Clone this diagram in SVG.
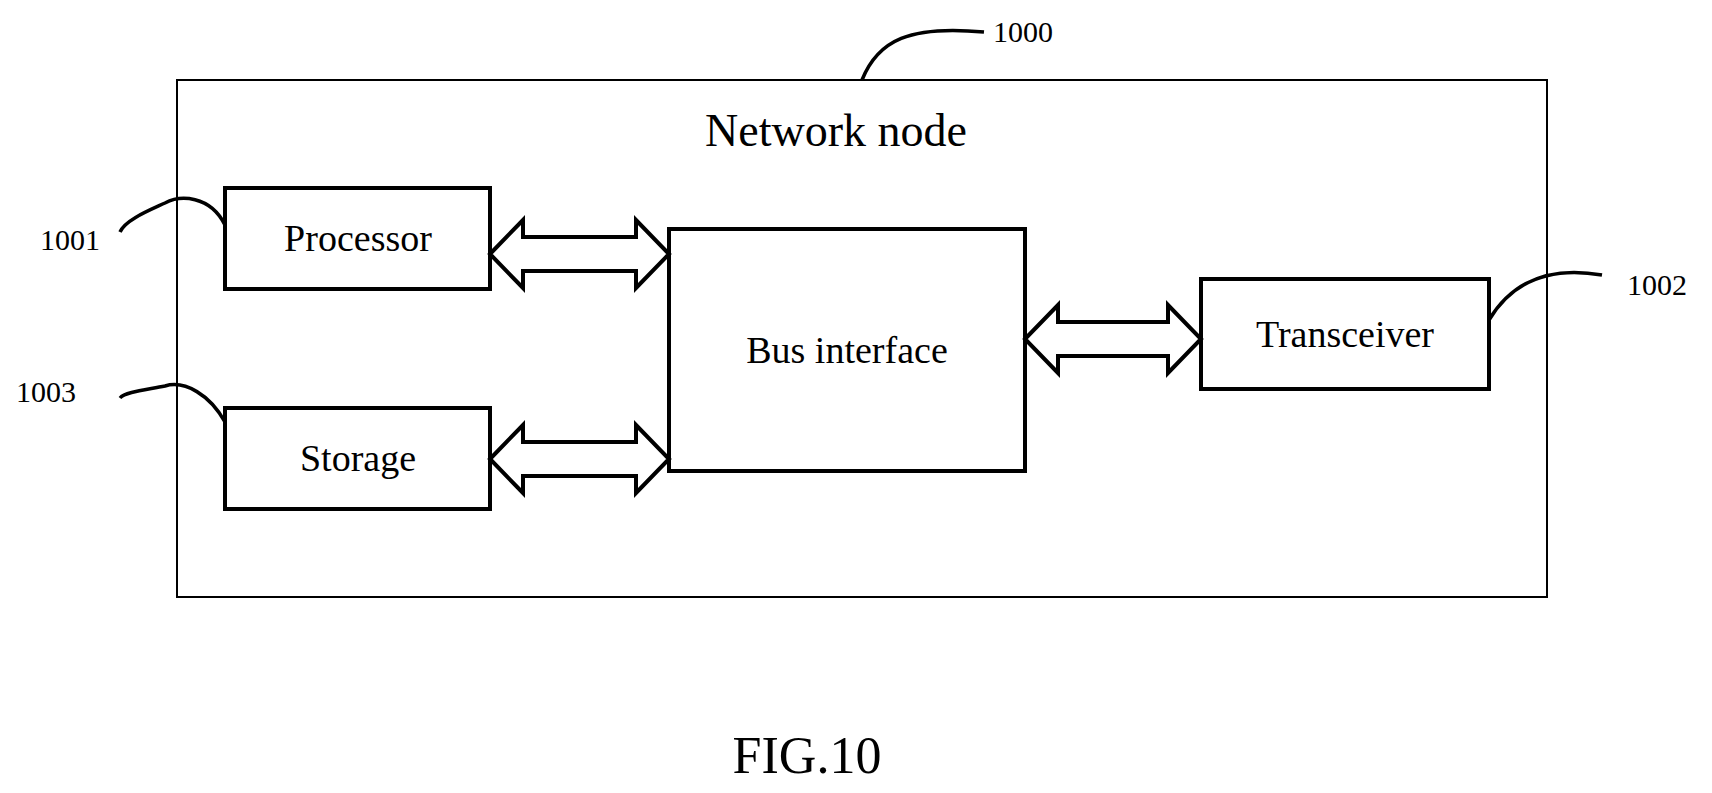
<svg xmlns="http://www.w3.org/2000/svg" width="1712" height="793" viewBox="0 0 1712 793">
<style>
text{font-family:"Liberation Serif",serif;fill:#000}
.box{fill:#fff;stroke:#000;stroke-width:4}
.lead{fill:none;stroke:#000;stroke-width:3.5}
.arr{fill:#fff;stroke:#000;stroke-width:4;stroke-linejoin:miter}
.lbl{font-size:38px;text-anchor:middle}
.num{font-size:30px}
</style>
<rect width="1712" height="793" fill="#fff"/>
<g id="node-1000">
<rect x="177" y="80" width="1370" height="517" fill="none" stroke="#000" stroke-width="2"/>
<text x="836" y="146" font-size="46" text-anchor="middle">Network node</text>
</g>
<g id="node-processor"><rect class="box" x="225" y="188" width="265" height="101"/><text class="lbl" x="358" y="251">Processor</text></g>
<g id="node-storage"><rect class="box" x="225" y="408" width="265" height="101"/><text class="lbl" x="358" y="471">Storage</text></g>
<g id="node-bus"><rect class="box" x="669" y="229" width="356" height="242"/><text class="lbl" x="847" y="363">Bus interface</text></g>
<g id="node-transceiver"><rect class="box" x="1201" y="279" width="288" height="110"/><text class="lbl" x="1345" y="347">Transceiver</text></g>
<g id="connectors">
<polygon class="arr" points="490,254 523,220 523,237 636,237 636,220 669,254 636,288 636,271 523,271 523,288"/>
<polygon class="arr" points="490,459 523,425 523,442 636,442 636,425 669,459 636,493 636,476 523,476 523,493"/>
<polygon class="arr" points="1025,339 1058,305 1058,322 1168,322 1168,305 1201,339 1168,373 1168,356 1058,356 1058,373"/>
<path class="lead" d="M862,80 C878,40 910,25 984,32"/>
<path class="lead" d="M225,225 C210,195 180,195 165,203 C150,210 125,220 120,232"/>
<path class="lead" d="M225,422 C210,395 185,380 165,386 C145,390 125,392 120,398"/>
<path class="lead" d="M1489,320 C1510,285 1545,265 1602,275"/>
</g>
<g id="labels">
<text class="num" x="993" y="42">1000</text>
<text class="num" x="40" y="250">1001</text>
<text class="num" x="1627" y="295">1002</text>
<text class="num" x="16" y="402">1003</text>
<text x="807" y="773" font-size="52" text-anchor="middle">FIG.10</text>
</g>
</svg>
